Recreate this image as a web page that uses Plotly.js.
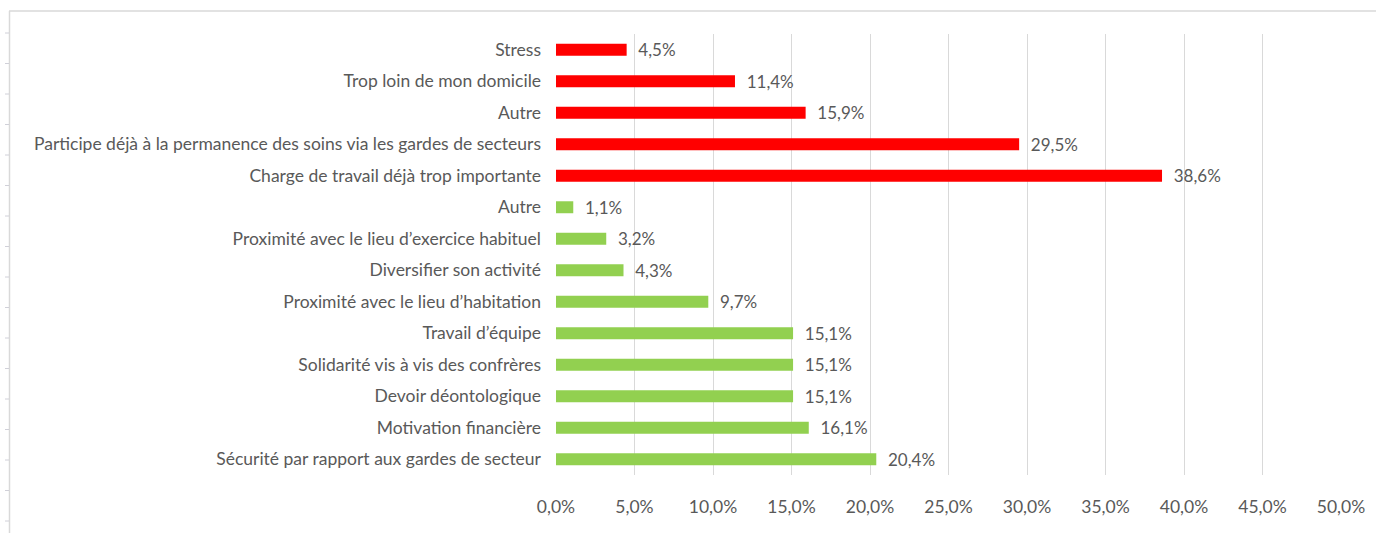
<!DOCTYPE html>
<html>
<head>
<meta charset="utf-8">
<script src="https://cdn.plot.ly/plotly-3.0.1.min.js"></script>
<style>html,body{margin:0;padding:0;background:#fff;}#chart{width:1376px;height:533px;}</style>
</head>
<body>
<div id="chart"></div>
<script>
// Categories listed bottom to top
const greenLabels = [
  "Sécurité par rapport aux gardes de secteur",
  "Motivation financière",
  "Devoir déontologique",
  "Solidarité vis à vis des confrères",
  "Travail d’équipe",
  "Proximité avec le lieu d’habitation",
  "Diversifier son activité",
  "Proximité avec le lieu d’exercice habituel",
  "Autre"
];
const greenValues = [20.4, 16.1, 15.1, 15.1, 15.1, 9.7, 4.3, 3.2, 1.1];

const redLabels = [
  "Charge de travail déjà trop importante",
  "Participe déjà à la permanence des soins via les gardes de secteurs",
  "Autre",
  "Trop loin de mon domicile",
  "Stress"
];
const redValues = [38.6, 29.5, 15.9, 11.4, 4.5];

const xTickValues = [0, 5, 10, 15, 20, 25, 30, 35, 40, 45, 50];
const xTickLabels = ["0,0%", "5,0%", "10,0%", "15,0%", "20,0%", "25,0%", "30,0%", "35,0%", "40,0%", "45,0%", "50,0%"];

const allLabels = greenLabels.concat(redLabels);
const greenPos = greenLabels.map((_, i) => i);
const redPos = redLabels.map((_, i) => i + greenLabels.length);
const allPos = allLabels.map((_, i) => i);

const textColor = '#595959';
const fontFam = 'Lato, Open Sans, sans-serif';

const common = {
  type: 'bar',
  orientation: 'h',
  width: 0.38,
  textposition: 'outside',
  texttemplate: '\u00a0\u00a0%{x:.1f}%',
  textfont: {family: fontFam, size: 17, color: textColor},
  constraintext: 'none',
  textangle: 0,
  cliponaxis: false,
  hoverinfo: 'none',
  showlegend: false
};

const traces = [
  Object.assign({}, common, {x: greenValues, y: greenPos, marker: {color: '#92D050'}}),
  Object.assign({}, common, {x: redValues, y: redPos, marker: {color: '#FF0000'}})
];

// pixel -> paper helpers (plot area: x 556..1341, y 34..475)
const L = 556, R = 1341, T = 34, B = 475;
const px = v => (v - L) / (R - L);
const py = v => (B - v) / (B - T);

const shapes = [
  {type: 'line', xref: 'paper', yref: 'paper', x0: px(9), x1: px(1376), y0: py(11), y1: py(11), line: {color: '#D9D9D9', width: 1.5}},
  {type: 'line', xref: 'paper', yref: 'paper', x0: px(9.5), x1: px(9.5), y0: py(11), y1: py(533), line: {color: '#D9D9D9', width: 1.5}}
];
for (let yy = 33; yy < 533; yy += 30.5) {
  shapes.push({type: 'line', xref: 'paper', yref: 'paper', x0: px(5), x1: px(9), y0: py(yy), y1: py(yy), line: {color: '#D0D0D8', width: 1}});
}

const layout = {
  width: 1376,
  height: 533,
  margin: {l: L, r: 1376 - R, t: T, b: 533 - B},
  paper_bgcolor: '#ffffff',
  plot_bgcolor: '#ffffff',
  separators: ', ',
  xaxis: {
    range: [0, 50],
    tickvals: xTickValues,
    ticktext: xTickLabels,
    showgrid: true,
    gridcolor: '#D9D9D9',
    gridwidth: 1,
    zeroline: false,
    showline: false,
    ticks: '',
    ticklabelstandoff: 19,
    tickfont: {family: fontFam, size: 17.5, color: textColor},
    fixedrange: true
  },
  yaxis: {
    range: [-0.5, allLabels.length - 0.5],
    tickvals: allPos,
    ticktext: allLabels,
    showgrid: false,
    zeroline: false,
    showline: false,
    ticks: '',
    ticklabelstandoff: 14,
    tickfont: {family: fontFam, size: 17.5, color: textColor},
    fixedrange: true
  },
  shapes: shapes
};

Plotly.newPlot('chart', traces, layout, {displayModeBar: false, staticPlot: true});
</script>
</body>
</html>
